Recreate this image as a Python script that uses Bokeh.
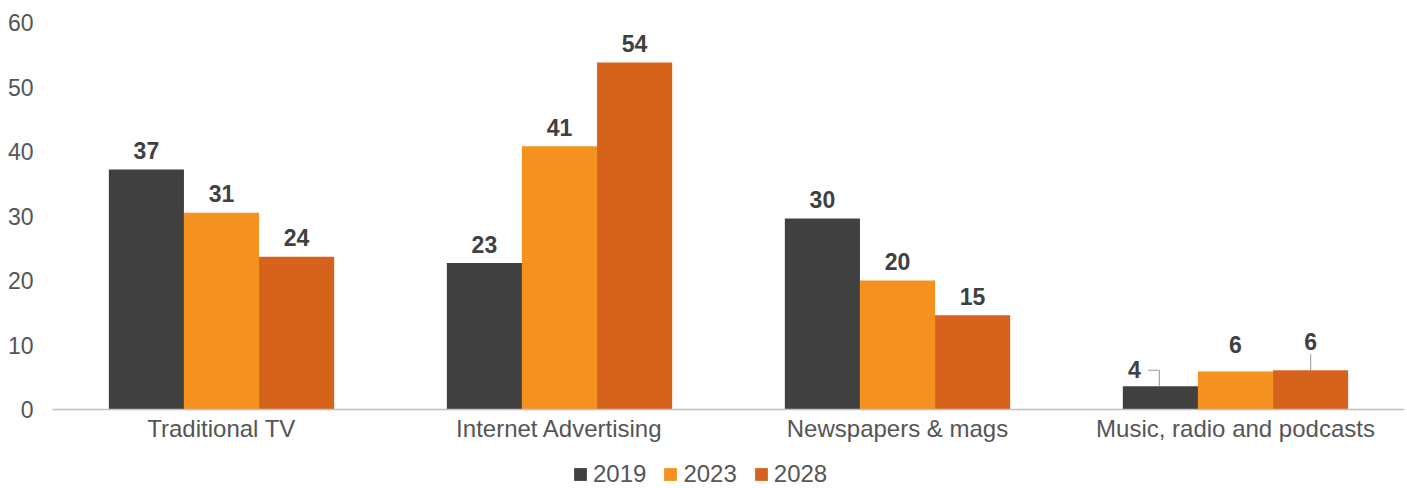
from bokeh.plotting import figure
from bokeh.models import ColumnDataSource, Legend, LegendItem, FixedTicker, Span
from bokeh.transform import dodge
from bokeh.core.properties import value
from bokeh.embed import file_html
from bokeh.resources import INLINE

categories = ["Traditional TV", "Internet Advertising", "Newspapers & mags", "Music, radio and podcasts"]
years = ["2019", "2023", "2028"]
v2019 = [37.2, 22.7, 29.6, 3.6]
v2023 = [30.5, 40.8, 20.0, 5.9]
v2028 = [23.7, 53.8, 14.6, 6.1]
labels2019 = ["37", "23", "30", "4"]
labels2023 = ["31", "41", "20", "6"]
labels2028 = ["24", "54", "15", "6"]
yticks = [0, 10, 20, 30, 40, 50, 60]

colors = ["#404041", "#F5911F", "#D6631C"]
FONT = "Liberation Sans"
FS_TICK = "23px"
FS_CAT = "24px"
FS_LBL = "23px"
TXT = "#555555"

W, H = 1407, 488
TOP, LEFT, RIGHT = 22, 52, 3
AXIS_Y = 409  # pixel row of the zero line
px = (AXIS_Y - TOP) / 60.0  # pixels per unit
ymin = -(H - AXIS_Y) / px

src = ColumnDataSource(dict(cat=categories, v2019=v2019, v2023=v2023, v2028=v2028,
                            l2019=labels2019, l2023=labels2023, l2028=labels2028))

p = figure(x_range=categories, y_range=(ymin, 60), width=W, height=H,
           output_backend="svg", toolbar_location=None,
           min_border_left=LEFT, min_border_right=RIGHT, min_border_top=TOP, min_border_bottom=0)
p.outline_line_color = None
p.grid.visible = False
p.background_fill_color = "white"
p.border_fill_color = "white"

offsets = [-0.2222, 0.0, 0.2222]
bw = 0.2222
renderers = []
for yr, off, col in zip(years, offsets, colors):
    r = p.vbar(x=dodge("cat", off, range=p.x_range), top="v" + yr, bottom=0, width=bw, source=src,
               fill_color=col, line_color=None)
    renderers.append(r)

# zero line (x axis line)
p.add_layout(Span(location=0, dimension="width", line_color="#BFBFBF", line_width=1.5))

# category labels
p.text(x="cat", y=0, text="cat", source=src, y_offset=19, text_align="center", text_baseline="middle",
       text_font=value(FONT), text_font_size=FS_CAT, text_color=TXT)

# data labels (first three categories)
std = ColumnDataSource(dict(cat=categories[:3], v2019=v2019[:3], v2023=v2023[:3], v2028=v2028[:3],
                            l2019=labels2019[:3], l2023=labels2023[:3], l2028=labels2028[:3]))
lbl = dict(text_align="center", text_baseline="middle", text_font=value(FONT), text_font_size=FS_LBL,
           text_font_style="bold", text_color="#404040")
for yr, off in zip(years, offsets):
    p.text(x=dodge("cat", off, range=p.x_range), y="v" + yr, text="l" + yr, source=std,
           y_offset=-19, **lbl)

music = categories[3]
m = ColumnDataSource(dict(cat=[music], v2019=[v2019[3]], v2023=[v2023[3]], v2028=[v2028[3]],
                          l2019=[labels2019[3]], l2023=[labels2023[3]], l2028=[labels2028[3]],
                          lead19=[v2019[3] + 16 / px], lead28=[v2028[3] + 16 / px]))
p.text(x=dodge("cat", -0.2222, range=p.x_range), y="v2019", text="l2019", source=m,
       x_offset=-26, y_offset=-17, **lbl)
p.text(x=dodge("cat", 0.0, range=p.x_range), y="v2023", text="l2023", source=m, y_offset=-27, **lbl)
p.text(x=dodge("cat", 0.2222, range=p.x_range), y="v2028", text="l2028", source=m, y_offset=-29, **lbl)
# leader lines
lc = "#A6A6A6"
p.segment(x0=dodge("cat", -0.258, range=p.x_range), y0="lead19",
          x1=dodge("cat", -0.2252, range=p.x_range), y1="lead19", source=m, line_color=lc, line_width=1.2)
p.segment(x0=dodge("cat", -0.2252, range=p.x_range), y0="lead19",
          x1=dodge("cat", -0.2252, range=p.x_range), y1="v2019", source=m, line_color=lc, line_width=1.2)
p.segment(x0=dodge("cat", 0.2222, range=p.x_range), y0="lead28",
          x1=dodge("cat", 0.2222, range=p.x_range), y1="v2028", source=m, line_color=lc, line_width=1.2)

# axes
p.xaxis.visible = False
ya = p.yaxis[0]
ya.axis_line_color = None
ya.major_tick_line_color = None
ya.minor_tick_line_color = None
ya.ticker = FixedTicker(ticks=yticks)
ya.major_label_text_font = FONT
ya.major_label_text_font_size = FS_TICK
ya.major_label_text_color = TXT
ya.major_label_standoff = 19
ya.major_tick_out = 0

legend = Legend(items=[LegendItem(label=yr, renderers=[r]) for yr, r in zip(years, renderers)],
                orientation="horizontal", location=(520, 0),
                label_text_font=FONT, label_text_font_size=FS_CAT, label_text_color=TXT,
                glyph_width=16, glyph_height=16, label_standoff=5, spacing=16, padding=2,
                border_line_color=None, background_fill_alpha=0, margin=0)
p.add_layout(legend, "center")

open("out.html", "w").write(file_html(p, INLINE))
